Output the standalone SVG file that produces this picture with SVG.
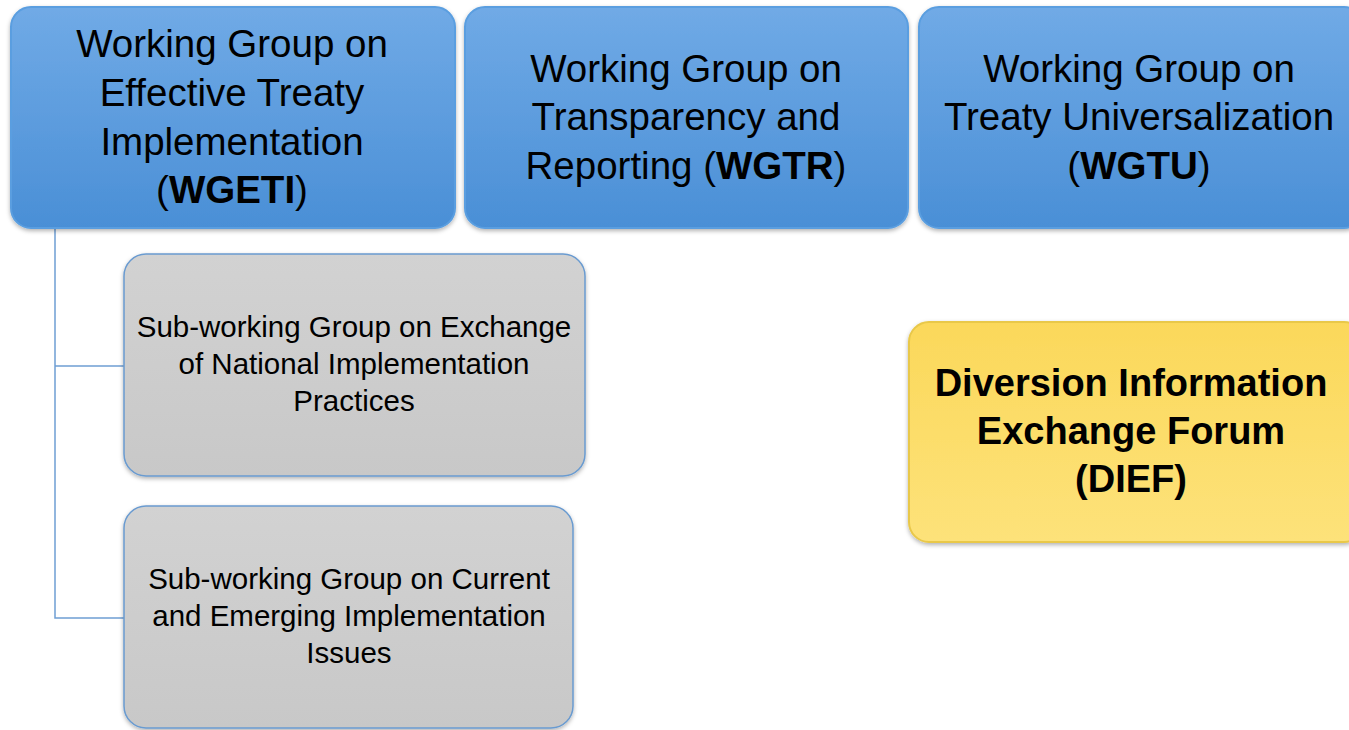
<svg xmlns="http://www.w3.org/2000/svg" width="1349" height="730" viewBox="0 0 1349 730">
<style>
.t{font-family:"Liberation Sans","Open Sans",sans-serif;fill:#000;text-anchor:middle}
.big{font-size:38.5px}
.sm{font-size:29.5px}
.yb{font-size:38px;font-weight:bold}
.b{font-weight:bold}
.blue{fill:url(#gBlue);stroke:#5a9ee0;stroke-width:2}
.gray{fill:url(#gGray);stroke:#6a9bd0;stroke-width:1.5}
.yel{fill:url(#gYel);stroke:#e9c84a;stroke-width:2}
.conn{fill:none;stroke:#6f9fd4;stroke-width:1.5}
</style>
<defs>
<linearGradient id="gBlue" x1="0" y1="0" x2="0" y2="1">
<stop offset="0" stop-color="#70aae6"/>
<stop offset="1" stop-color="#4a8fd6"/>
</linearGradient>
<linearGradient id="gGray" x1="0" y1="0" x2="0" y2="1">
<stop offset="0" stop-color="#d2d2d2"/>
<stop offset="1" stop-color="#c8c8c8"/>
</linearGradient>
<linearGradient id="gYel" x1="0" y1="0" x2="0" y2="1">
<stop offset="0" stop-color="#fbd85a"/>
<stop offset="1" stop-color="#fde27a"/>
</linearGradient>
<filter id="sh" x="-5%" y="-5%" width="110%" height="115%">
<feDropShadow dx="0" dy="2" stdDeviation="2" flood-color="#000" flood-opacity="0.3"/>
</filter>
</defs>
<g id="connectors">
<path class="conn" d="M55 228 V618 H124 M55 366 H124"/>
</g>
<g id="wgeti">
<rect class="blue" x="11" y="7" width="444" height="221" rx="20" filter="url(#sh)"/>
<text class="t big" x="232" y="57">Working Group on</text>
<text class="t big" x="232" y="106">Effective Treaty</text>
<text class="t big" x="232" y="155">Implementation</text>
<text class="t big" x="232" y="203">(<tspan class="b">WGETI</tspan>)</text>
</g>
<g id="wgtr">
<rect class="blue" x="465" y="7" width="443" height="221" rx="20" filter="url(#sh)"/>
<text class="t big" x="686" y="82">Working Group on</text>
<text class="t big" x="686" y="130">Transparency and</text>
<text class="t big" x="686" y="179">Reporting (<tspan class="b">WGTR</tspan>)</text>
</g>
<g id="wgtu">
<rect class="blue" x="919" y="7" width="445" height="221" rx="20" filter="url(#sh)"/>
<text class="t big" x="1139" y="82">Working Group on</text>
<text class="t big" x="1139" y="130">Treaty Universalization</text>
<text class="t big" x="1139" y="179">(<tspan class="b">WGTU</tspan>)</text>
</g>
<g id="sub1">
<rect class="gray" x="124" y="254" width="461" height="222" rx="22" filter="url(#sh)"/>
<text class="t sm" x="354" y="337">Sub-working Group on Exchange</text>
<text class="t sm" x="354" y="374">of National Implementation</text>
<text class="t sm" x="354" y="411">Practices</text>
</g>
<g id="sub2">
<rect class="gray" x="124" y="506" width="449" height="222" rx="22" filter="url(#sh)"/>
<text class="t sm" x="349" y="589">Sub-working Group on Current</text>
<text class="t sm" x="349" y="626">and Emerging Implementation</text>
<text class="t sm" x="349" y="663">Issues</text>
</g>
<g id="dief">
<rect class="yel" x="909" y="322" width="455" height="220" rx="20" filter="url(#sh)"/>
<text class="t yb" x="1131" y="396">Diversion Information</text>
<text class="t yb" x="1131" y="444">Exchange Forum</text>
<text class="t yb" x="1131" y="492">(DIEF)</text>
</g>
</svg>
